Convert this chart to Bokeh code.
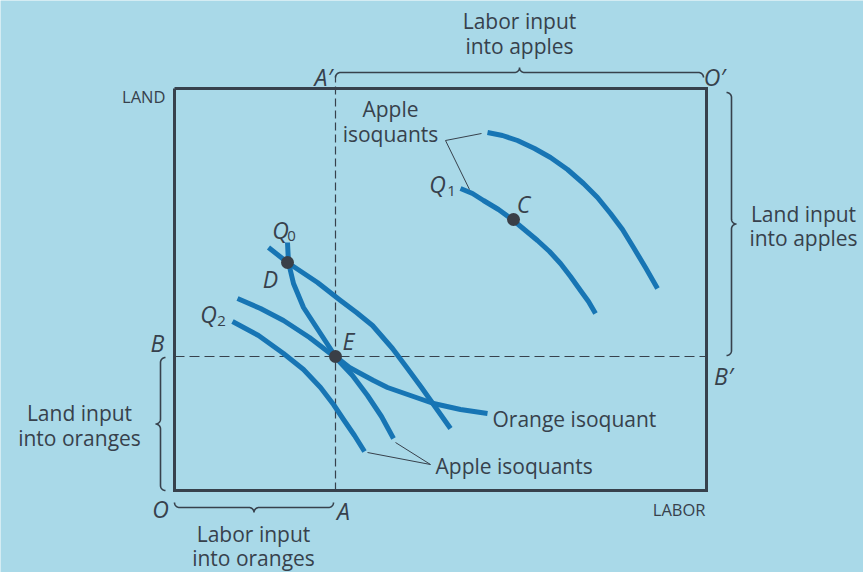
import numpy as np
from bokeh.plotting import figure
from bokeh.models import Range1d, ColumnDataSource
from bokeh.core.properties import value
from bokeh.embed import file_html
from bokeh.resources import INLINE

# ---------------- data (labor on x, land on y, origin O at 0,0) ----------------
BOX_LABOR = 532
BOX_LAND = 402

# orange isoquant Q0 (through D and E)
orange_x = [113, 114, 119, 129, 144, 161, 175, 186, 199, 213, 236, 259, 286, 313]
orange_y = [248, 228, 207, 183, 160, 134, 123, 117, 110, 103, 95, 87, 81, 77]

# apple isoquant through D
appleD_x = [94, 113, 128, 143, 166, 182, 198, 218, 233, 247, 259, 276]
appleD_y = [243, 228, 218, 208, 190, 178, 165, 142, 122, 103, 86, 62]

# apple isoquant through E
appleE_x = [63, 86, 109, 135, 161, 178, 193, 207, 219]
appleE_y = [192, 182, 170, 153, 133, 115, 95, 74, 52]

# apple isoquant Q2
appleQ2_x = [58, 84, 109, 129, 146, 159, 169, 180, 190]
appleQ2_y = [169, 155, 137, 121, 103, 86, 71, 55, 39]

# apple isoquant Q1 (through C)
appleQ1_x = [286, 298, 309, 324, 339, 351, 363, 375, 386, 396, 406, 414, 421]
appleQ1_y = [302, 297, 290, 281, 270, 260, 250, 239, 227, 214, 200, 189, 177]

# highest apple isoquant
appleTop_x = [313, 328, 343, 360, 376, 393, 409, 423, 436, 448, 459, 471, 483]
appleTop_y = [358, 355, 350, 342, 333, 321, 307, 293, 277, 261, 243, 223, 202]

# marked points
pt_names = ["C", "D", "E"]
pt_x = [339, 113, 161]
pt_y = [271, 228, 134]

E_x, E_y = pt_x[2], pt_y[2]

# ---------------- styles ----------------
BG = "#a9d9e8"
CURVE = "#1775b4"
INK = "#37414c"
FONT = "Open Sans"

p = figure(width=863, height=572, output_backend="svg", toolbar_location=None,
           x_range=Range1d(-174, 689), y_range=Range1d(-82, 490),
           min_border=0, background_fill_color=BG, border_fill_color=BG,
           outline_line_color=None)
p.axis.visible = False
p.grid.visible = False

# box
p.line([0, 0, BOX_LABOR, BOX_LABOR, 0], [BOX_LAND, 0, 0, BOX_LAND, BOX_LAND],
       line_color=INK, line_width=3, line_join="miter")

# dashed lines through E
p.line([E_x, E_x], [0, BOX_LAND + 13], line_color=INK, line_width=1.2, line_dash="8 4")
p.line([0, BOX_LABOR], [E_y, E_y], line_color=INK, line_width=1.2, line_dash="10 5")

# isoquants
for xs, ys in [(orange_x, orange_y), (appleD_x, appleD_y), (appleE_x, appleE_y),
               (appleQ2_x, appleQ2_y), (appleQ1_x, appleQ1_y), (appleTop_x, appleTop_y)]:
    p.line(xs, ys, line_color=CURVE, line_width=5, line_cap="butt", line_join="round")

# points
p.scatter(pt_x, pt_y, size=13, fill_color="#3a3f47", line_color=None)


# braces
def brace(p0, p1, normal, r=5.0):
    p0 = np.array(p0, float)
    p1 = np.array(p1, float)
    n = np.array(normal, float)
    L = np.linalg.norm(p1 - p0)
    t = (p1 - p0) / L
    th1 = np.linspace(np.pi, np.pi / 2, 12)
    seg1 = np.c_[r + r * np.cos(th1), -r + r * np.sin(th1)]
    th2 = np.linspace(-np.pi / 2, 0, 12)
    seg2 = np.c_[L / 2 - r + r * np.cos(th2), r + r * np.sin(th2)]
    half = np.vstack([seg1, seg2])
    other = half[::-1].copy()
    other[:, 0] = L - other[:, 0]
    uv = np.vstack([half, other])
    pts = p0[None, :] + uv[:, :1] * t[None, :] + uv[:, 1:] * n[None, :]
    return pts[:, 0], pts[:, 1]


brace_specs = [
    ((E_x, BOX_LAND + 16), (BOX_LABOR - 3, BOX_LAND + 16), (0, 1)),
    ((BOX_LABOR + 25, BOX_LAND - 4), (BOX_LABOR + 25, E_y + 1), (1, 0)),
    ((-14, E_y - 1), (-14, 0), (-1, 0)),
    ((0, -17), (E_x - 2, -17), (0, -1)),
]
for a, b, n in brace_specs:
    bx, by = brace(a, b, n)
    p.line(bx, by, line_color=INK, line_width=1.6)

# leader lines
top_anchor = (271, 350)
bot_anchor = (256, 26)
p.line([top_anchor[0], appleTop_x[0] - 6], [top_anchor[1], appleTop_y[0] - 1], line_color=INK, line_width=1)
p.line([top_anchor[0], appleQ1_x[0] + 9], [top_anchor[1], appleQ1_y[0] - 1], line_color=INK, line_width=1)
p.line([bot_anchor[0], appleE_x[-1] + 2], [bot_anchor[1], appleE_y[-1] - 4], line_color=INK, line_width=1)
p.line([bot_anchor[0], appleQ2_x[-1] + 3], [bot_anchor[1], appleQ2_y[-1] - 1], line_color=INK, line_width=1)


def texts(xs, ys, tx, size, align="center", style="normal"):
    src = ColumnDataSource(dict(x=xs, y=ys, t=tx))
    p.text(x="x", y="y", text="t", source=src, text_font=value(FONT),
           text_font_size=size, text_color=INK, text_align=align,
           text_baseline="middle", text_font_style=style)


texts([345, 345, 216, 216, -95, -95, 629, 629, 79, 79],
      [470, 445, 382, 357, 78, 53, 277, 253, -43, -67],
      ["Labor input", "into apples", "Apple", "isoquants", "Land input", "into oranges",
       "Land input", "into apples", "Labor input", "into oranges"], "21px")
texts([318, 261], [72, 25], ["Orange isoquant", "Apple isoquants"], "21px", align="left")
texts([-9, BOX_LABOR - 1], [394, -19], ["LAND", "LABOR"], "16.5px", align="right")
texts([149, 540, 263, 349, 106, 96, 34, 174, -17, 549, -14, 169],
      [414, 414, 307, 287, 261, 212, 177, 150, 148, 115, -18, -20],
      ["A\u2032", "O\u2032", "Q", "C", "Q", "D", "Q", "E", "B", "B\u2032", "O", "A"],
      "23px", style="italic")
texts([277, 117, 47], [300, 255, 170], ["1", "0", "2"], "15px")

open("out.html", "w").write(file_html(p, INLINE))
